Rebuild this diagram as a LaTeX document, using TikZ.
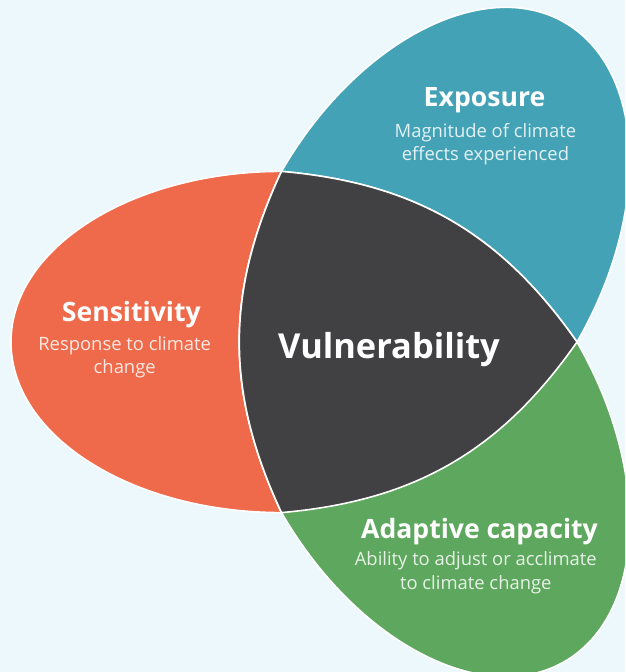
\documentclass[tikz,border=0pt]{standalone}
\usepackage{fontspec}
\setmainfont{Open Sans}
\definecolor{bgcol}{HTML}{EDF8FC}
\definecolor{sens}{HTML}{EE6A4A}
\definecolor{expo}{HTML}{43A2B6}
\definecolor{adap}{HTML}{5EA75E}
\definecolor{vul}{HTML}{414042}
\tikzset{
  petal/.style={draw=white, line width=0.8pt},
  core/.style={fill=vul, draw=white, line width=0.8pt},
  title/.style={text=white, anchor=base, inner sep=0pt, font=\bfseries\fontsize{13.3}{16}\selectfont},
  subtitle/.style={text=white, text opacity=0.85, anchor=base, inner sep=0pt, align=center, font=\fontsize{9.2}{11.6}\selectfont}
}

\begin{document}
\begin{tikzpicture}[x=0.5pt, y=0.5pt]
\useasboundingbox (-380,-330) rectangle (245,342);
\clip (-380,-330) rectangle (245,342);
\fill[bgcol] (-380,-330) rectangle (245,342);

% petals
\foreach \ang/\col in {0/sens, -120/expo, 120/adap}
  \filldraw[petal, fill=\col, rotate=\ang]
    (0:197) to[bend right=25] (120:197)
    .. controls (-247.9,170.6) and (-369,94.2) .. (-369,0)
    .. controls (-369,-94.2) and (-247.9,-170.6) .. (240:197)
    to[bend right=25] cycle;

\coordinate (tipS) at (0:197);
\coordinate (tipA) at (120:197);
\coordinate (tipE) at (240:197);
\filldraw[core] (tipA) to[bend right=25] (tipE) to[bend right=25] (tipS) to[bend right=25] cycle;

\node[title, font=\bfseries\fontsize{17.2}{21}\selectfont] (vulner) at (9,-16.3) {Vulnerability};

% subtitle nodes sit on the baseline of their last line
\node[title] (expo) at (104.5,235) {Exposure};
\node[subtitle] (expotext) at (105.4,181.5) {Magnitude of climate\\effects experienced};

\node[title] (sens) at (-248.7,20.3) {Sensitivity};
\node[subtitle] (senstext) at (-255.3,-32) {Response to climate\\change};

\node[title] (adap) at (99.5,-196.3) {Adaptive capacity};
\node[subtitle] (adaptext) at (95.8,-247) {Ability to adjust or acclimate\\to climate change};
\end{tikzpicture}
\end{document}
